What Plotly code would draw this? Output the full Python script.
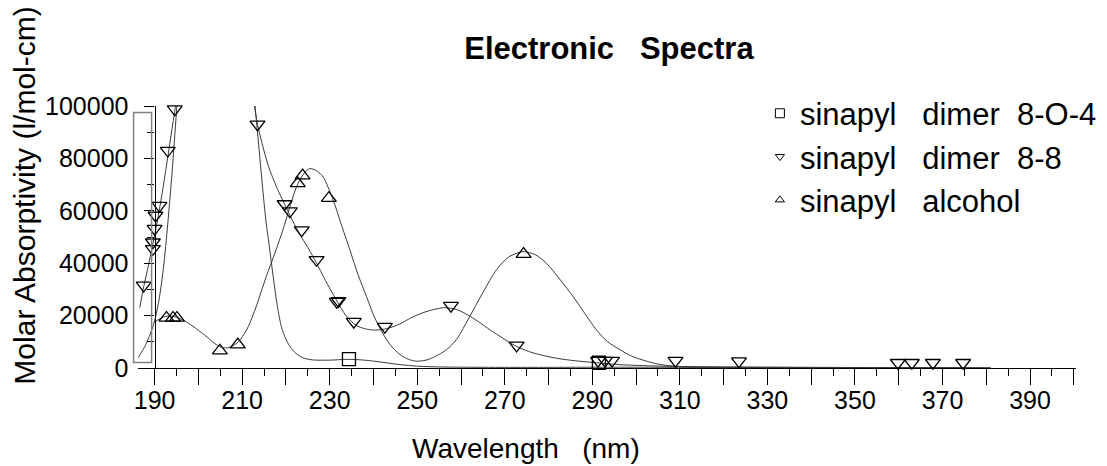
import plotly.graph_objects as go

# ---------------- data ----------------
# smooth fitted curves
d804_curve_x = [186.2, 187, 188, 189, 190, 191, 192, 193, 194, 195, 196, 198, 201, 204, 207, 210,
                212, 213, 214, 215, 215.5, 216, 217, 218, 219, 220, 221, 222, 223, 224, 226, 230,
                234, 238, 242, 246, 250, 255, 260, 270, 280, 290, 300, 320, 340, 360, 381]
d804_curve_y = [3900, 6000, 9000, 13000, 18000, 26000, 38000, 55000, 75000, 98000, 120000, 150000,
                170000, 172000, 165000, 145000, 118000, 99000, 81000, 63000, 55000, 49000, 36000,
                24000, 15500, 11000, 8000, 6000, 4700, 3800, 3100, 3000, 3300, 3000, 2200, 1300,
                700, 400, 300, 250, 250, 300, 300, 200, 150, 100, 0]

d88_curve_x = [186.6, 187.5, 188.5, 189.5, 190.5, 191.5, 192.5, 193.5, 194.5, 195.5, 197, 200, 203,
               206, 209, 211, 212, 213, 213.5, 214.5, 216, 218, 219.7, 221, 223, 225, 227, 229,
               231.5, 233.8, 236, 238, 240, 242, 244, 246, 249, 252, 256, 259, 262, 264.3, 266.5,
               268.9, 271, 273.4, 276, 279.5, 283, 287, 291, 295, 300, 306, 320, 340, 360, 381]
d88_curve_y = [23000, 31000, 38500, 46500, 55000, 64500, 75000, 86000, 97000, 108000, 125000,
               150000, 160000, 158000, 145000, 125000, 110000, 98000, 93000, 86000, 77000, 68500,
               62500, 58000, 51500, 46000, 40000, 33500, 26000, 19800, 16300, 15000, 14500, 14700,
               15500, 16800, 19500, 21500, 23000, 22300, 19800, 17300, 14700, 12100, 9800, 7700,
               6000, 4500, 3400, 2600, 2000, 1400, 1000, 700, 400, 250, 150, 0]

alc_curve_x = [190, 191, 192, 193, 194, 195, 196, 198, 200, 202, 204, 205.5, 207, 209, 211, 213,
               215.5, 217.5, 219.3, 221, 222.4, 224, 225.4, 227, 228.5, 230.8, 232.5, 234.6, 236.5,
               238.4, 240.2, 242.2, 244, 246, 248, 249.8, 252, 254, 256.7, 259, 262, 265, 268.1,
               271, 274.2, 277, 279.5, 282.5, 285.6, 288, 290.9, 293.5, 296.3, 299, 302.4, 305,
               308.5, 312, 320, 340, 360, 381]
alc_curve_y = [17500, 18600, 19400, 19800, 19800, 19400, 18700, 16800, 14400, 11800, 9000, 7800,
               7800, 9800, 14500, 22500, 34900, 44000, 52700, 62000, 69100, 74000, 76100, 75300,
               72900, 64100, 55500, 45100, 35500, 27300, 19500, 13000, 8500, 5200, 3300, 2600,
               3000, 4300, 7000, 11000, 19700, 28800, 37500, 42500, 44400, 43200, 40000, 34000,
               27300, 21500, 14600, 10000, 7000, 4500, 2600, 1500, 700, 400, 300, 200, 100, 0]

# measured points
d804_pts_x = [188.9, 188.9, 234.4, 291.5, 401.1]
d804_pts_y = [101700, -2500, 3400, 2000, -1700]

d88_pts_x = [187.5, 189.6, 189.6, 190.0, 190.2, 191.1, 193.0, 194.6, 213.5, 219.7, 220.9, 223.6,
             227.0, 231.6, 232.0, 235.5, 242.6, 257.7, 272.7, 291.3, 292.9, 294.5, 309.0, 323.5,
             359.8, 363.0, 367.8, 374.7]
d88_pts_y = [31500, 45500, 48000, 53200, 58200, 62000, 83000, 98800, 93000, 62600, 59900, 52600,
             41300, 25300, 25600, 17700, 15800, 23800, 8600, 2800, 2800, 2800, 2800, 2600,
             2000, 2000, 2000, 2000]

alc_pts_x = [192.7, 194.2, 195.1, 204.9, 209.0, 222.7, 223.8, 229.8, 274.3, 314.1]
alc_pts_y = [19100, 19100, 19100, 6600, 8900, 70500, 73400, 64800, 43500, -800]

series_names = ["sinapyl\u00a0\u00a0\u00a0dimer\u00a0\u00a08-O-4",
                "sinapyl\u00a0\u00a0\u00a0dimer\u00a0\u00a08-8",
                "sinapyl\u00a0\u00a0\u00a0alcohol"]
series_symbols = ["square-open", "triangle-down-open", "triangle-up-open"]

x_tick_vals = list(range(190, 401, 10))
x_tick_text = [str(v) if (v - 190) % 20 == 0 and v < 400 else "" for v in x_tick_vals]
y_tick_vals = [0, 20000, 40000, 60000, 80000, 100000]
y_tick_text = ["0", "20000", "40000", "60000", "80000", "100000"]

FONT = "Arial, Liberation Sans, sans-serif"
LINE_COLOR = "#3a3a3a"

fig = go.Figure()

curves = [(d804_curve_x, d804_curve_y), (d88_curve_x, d88_curve_y), (alc_curve_x, alc_curve_y)]
points = [(d804_pts_x, d804_pts_y), (d88_pts_x, d88_pts_y), (alc_pts_x, alc_pts_y)]

for (cx, cy) in curves:
    fig.add_trace(go.Scatter(x=cx, y=cy, mode="lines", showlegend=False, hoverinfo="skip",
                             line=dict(color=LINE_COLOR, width=1, shape="spline", smoothing=0.8)))

for (px, py), sym in zip(points, series_symbols):
    fig.add_trace(go.Scatter(x=px, y=py, mode="markers", showlegend=False, cliponaxis=False,
                             marker=dict(symbol=sym, size=13, color="black",
                                         line=dict(color="black", width=1.3))))

# legend entries (small symbols as in the original)
for i, (name, sym) in enumerate(zip(series_names, series_symbols)):
    fig.add_trace(go.Scatter(x=[None], y=[None], mode="markers", name=name,
                             legendgroup=f"g{i}",
                             marker=dict(symbol=sym, size=9 if i == 0 else 8, color="black",
                                         line=dict(color="black", width=1))))

fig.update_layout(
    width=1107, height=466,
    margin=dict(l=138.4, r=31.0, t=105.5, b=97.5, pad=0, autoexpand=False),
    paper_bgcolor="white", plot_bgcolor="white",
    font=dict(family=FONT, color="black", size=25),
    title=dict(text="<b>Electronic\u00a0\u00a0\u00a0Spectra</b>", font=dict(size=31, family=FONT, color="black"),
               x=0.5501, xref="container", xanchor="center",
               y=1 - 48.5 / 466, yref="container", yanchor="middle"),
    showlegend=True,
    legend=dict(x=0.663, y=1.074, xanchor="left", yanchor="top", bgcolor="rgba(0,0,0,0)",
                font=dict(size=31, family=FONT, color="black"), traceorder="grouped",
                tracegroupgap=0, itemwidth=30),
    xaxis=dict(range=[186.2, 400.5], showgrid=False, zeroline=False, showline=True,
               linecolor="black", linewidth=1.3, ticks="outside", ticklen=16, tickwidth=1.3,
               tickcolor="black", tickvals=x_tick_vals, ticktext=x_tick_text,
               tickfont=dict(size=25, family=FONT, color="black"), ticklabelstandoff=-6,
               minor=dict(dtick=5, tick0=190, ticks="outside", ticklen=7, tickwidth=1.3,
                          tickcolor="black", showgrid=False)),
    yaxis=dict(range=[0, 100000], anchor="free", position=(190 - 186.2) / (400.5 - 186.2),
               showgrid=False, zeroline=False, showline=True, linecolor="black", linewidth=1.3,
               ticks="outside", ticklen=10, tickwidth=1.3, tickcolor="black",
               tickvals=y_tick_vals, ticktext=y_tick_text,
               tickfont=dict(size=25, family=FONT, color="black"), ticklabelstandoff=11,
               minor=dict(dtick=10000, tick0=0, ticks="outside", ticklen=7, tickwidth=1.3,
                          tickcolor="black", showgrid=False)),
    annotations=[
        dict(text="Wavelength\u00a0\u00a0\u00a0(nm)", x=0.4141, y=-0.306, xref="paper", yref="paper",
             xanchor="center", yanchor="middle", showarrow=False,
             font=dict(size=28, family=FONT, color="black")),
        dict(text="Molar Absorptivity (l/mol-cm)", x=-0.121, y=0.656, xref="paper", yref="paper",
             xanchor="center", yanchor="middle", showarrow=False, textangle=-90,
             font=dict(size=30, family=FONT, color="black")),
    ],
    shapes=[dict(type="rect", xref="paper", yref="paper", x0=-0.0047, x1=0.0145, y0=0.0209,
                 y1=0.9753, line=dict(color="#808080", width=1.5), fillcolor="rgba(0,0,0,0)")],
)

fig.write_html("out.html")
